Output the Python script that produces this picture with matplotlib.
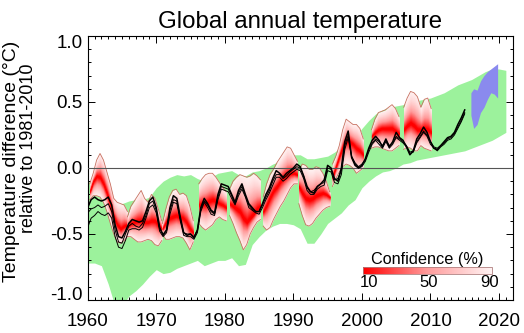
import matplotlib
matplotlib.use("Agg")
import matplotlib.pyplot as plt
import numpy as np
from matplotlib.colors import LinearSegmentedColormap, Normalize
from matplotlib.cm import ScalarMappable
from matplotlib.ticker import MultipleLocator
from matplotlib.transforms import ScaledTranslation
from statistics import NormalDist

plt.rcParams["font.family"] = ["Liberation Sans", "DejaVu Sans"]

# model ensemble range (green band), yearly
model_years = list(range(1960, 2022))
model_upper = [-0.10, -0.12, -0.18, -0.25, -0.28, -0.27, -0.25, -0.24, -0.24, -0.22,
               -0.15, -0.10, -0.07, -0.05, -0.06, -0.05, -0.08, -0.10, -0.07, -0.04,
               -0.03, -0.02, -0.05, -0.06, -0.03, -0.02, 0.00, 0.03, 0.05, 0.08,
               0.10, 0.10, 0.07, 0.07, 0.08, 0.09, 0.12, 0.16, 0.20, 0.23,
               0.30, 0.36, 0.41, 0.44, 0.46, 0.47, 0.48, 0.50, 0.51, 0.52,
               0.53, 0.55, 0.57, 0.60, 0.63, 0.65, 0.67, 0.70, 0.73, 0.75,
               0.75, 0.74]
model_lower = [-0.72, -0.72, -0.74, -0.88, -1.05, -1.05, -0.97, -0.93, -0.88, -0.82,
               -0.77, -0.80, -0.79, -0.76, -0.74, -0.72, -0.70, -0.74, -0.72, -0.70,
               -0.70, -0.68, -0.74, -0.73, -0.58, -0.52, -0.47, -0.44, -0.42, -0.42,
               -0.43, -0.46, -0.57, -0.57, -0.50, -0.42, -0.38, -0.34, -0.28, -0.24,
               -0.15, -0.10, -0.06, -0.03, -0.02, 0.00, 0.03, 0.04, 0.06, 0.07,
               0.08, 0.09, 0.10, 0.11, 0.12, 0.13, 0.15, 0.17, 0.19, 0.21,
               0.24, 0.27]

# hindcasts: start year of each 5-year run, values every half year
hc_starts = [1960.3, 1965.8, 1970.9, 1976.2, 1980.7, 1985.6, 1990.8, 1995.7, 2001.4, 2006.1]
hc_upper = [
    [-0.12, -0.04, 0.06, 0.11, 0.06, -0.03, -0.12, -0.23, -0.26, -0.27, -0.28, -0.33],
    [-0.37, -0.29, -0.25, -0.21, -0.17, -0.23, -0.26, -0.20, -0.23, -0.31, -0.40],
    [-0.42, -0.31, -0.22, -0.17, -0.16, -0.20, -0.19, -0.21, -0.29, -0.40],
    [-0.12, -0.08, -0.05, -0.04, -0.04, -0.07, -0.11, -0.15, -0.18],
    [-0.16, -0.10, -0.07, -0.05, -0.06, -0.07, -0.06, -0.04, -0.06, -0.09],
    [-0.22, -0.12, -0.05, -0.01, 0.04, 0.08, 0.12, 0.16, 0.15, 0.10, 0.05],
    [-0.02, 0.03, 0.02, -0.01, -0.01, 0.01, 0.00, -0.04, -0.10, -0.18],
    [0.03, 0.09, 0.17, 0.29, 0.37, 0.35, 0.33, 0.33, 0.30, 0.22],
    [0.29, 0.37, 0.42, 0.43, 0.44, 0.46, 0.48, 0.45, 0.39],
    [0.46, 0.53, 0.58, 0.57, 0.54, 0.46, 0.52, 0.53, 0.45],
]
hc_center = [
    [-0.18, -0.10, -0.06, -0.07, -0.12, -0.19, -0.28, -0.37, -0.43, -0.46, -0.44, -0.43],
    [-0.44, -0.42, -0.41, -0.40, -0.40, -0.41, -0.41, -0.40, -0.40, -0.43, -0.46],
    [-0.46, -0.41, -0.38, -0.37, -0.36, -0.37, -0.38, -0.41, -0.46, -0.49],
    [-0.28, -0.27, -0.27, -0.25, -0.24, -0.25, -0.27, -0.28, -0.30],
    [-0.27, -0.29, -0.31, -0.33, -0.38, -0.41, -0.38, -0.35, -0.31, -0.29],
    [-0.33, -0.28, -0.22, -0.17, -0.14, -0.10, -0.07, -0.05, -0.04, -0.04, -0.05],
    [-0.14, -0.19, -0.23, -0.24, -0.23, -0.21, -0.20, -0.19, -0.20, -0.22],
    [-0.07, 0.01, 0.09, 0.16, 0.21, 0.20, 0.18, 0.15, 0.13, 0.10],
    [0.24, 0.27, 0.29, 0.30, 0.30, 0.30, 0.30, 0.28, 0.26],
    [0.29, 0.32, 0.34, 0.32, 0.29, 0.29, 0.30, 0.29, 0.27],
]
hc_lower = [
    [-0.24, -0.21, -0.21, -0.22, -0.26, -0.33, -0.42, -0.50, -0.56, -0.57, -0.55, -0.52],
    [-0.52, -0.52, -0.54, -0.56, -0.56, -0.55, -0.54, -0.55, -0.58, -0.59, -0.55],
    [-0.50, -0.54, -0.54, -0.53, -0.52, -0.52, -0.53, -0.57, -0.62, -0.56],
    [-0.42, -0.45, -0.47, -0.45, -0.43, -0.39, -0.37, -0.39, -0.40],
    [-0.36, -0.42, -0.49, -0.55, -0.62, -0.58, -0.50, -0.45, -0.41, -0.39],
    [-0.44, -0.47, -0.45, -0.39, -0.34, -0.29, -0.25, -0.20, -0.15, -0.12, -0.12],
    [-0.27, -0.36, -0.43, -0.44, -0.42, -0.38, -0.35, -0.32, -0.30, -0.29],
    [-0.14, -0.08, -0.03, 0.01, 0.03, 0.02, 0.00, -0.04, -0.02, 0.00],
    [0.15, 0.16, 0.16, 0.15, 0.14, 0.13, 0.13, 0.15, 0.17],
    [0.14, 0.16, 0.15, 0.13, 0.13, 0.17, 0.15, 0.14, 0.13],
]

# observations, half-yearly from 1960.0
obs_start = 1960.0
obs_main = [-0.30, -0.24, -0.22, -0.24, -0.25, -0.24, -0.22, -0.28, -0.43, -0.52,
            -0.53, -0.48, -0.42, -0.39, -0.40, -0.41, -0.40, -0.33, -0.25, -0.22,
            -0.30, -0.45, -0.51, -0.47, -0.30, -0.21, -0.23, -0.37, -0.49, -0.51,
            -0.50, -0.53, -0.47, -0.30, -0.23, -0.27, -0.32, -0.34, -0.20, -0.12,
            -0.13, -0.14, -0.20, -0.26, -0.17, -0.12, -0.20, -0.27, -0.30, -0.33,
            -0.33, -0.27, -0.20, -0.15, -0.08, -0.02, -0.04, -0.07, -0.04, -0.02,
            0.00, 0.03, 0.01, -0.06, -0.14, -0.18, -0.19, -0.14, -0.12, -0.09,
            0.02, 0.00, -0.08, -0.10, 0.00, 0.20, 0.28, 0.08, 0.02, 0.00,
            0.02, 0.07, 0.15, 0.21, 0.24, 0.21, 0.16, 0.22, 0.16, 0.20,
            0.27, 0.23, 0.21, 0.16, 0.10, 0.13, 0.22, 0.26, 0.31, 0.27,
            0.20, 0.15, 0.14, 0.17, 0.20, 0.23, 0.24, 0.27, 0.33, 0.38,
            0.44]
obs_second = [-0.34, -0.31, -0.30, -0.28, -0.30, -0.29, -0.27, -0.33, -0.47, -0.56,
              -0.57, -0.50, -0.44, -0.42, -0.44, -0.45, -0.42, -0.36, -0.27, -0.25,
              -0.32, -0.46, -0.50, -0.47, -0.32, -0.24, -0.25, -0.38, -0.49, -0.50,
              -0.50, -0.52, -0.47, -0.31, -0.25, -0.28, -0.33, -0.35, -0.22, -0.14,
              -0.15, -0.16, -0.21, -0.27, -0.19, -0.14, -0.21, -0.28, -0.31, -0.33,
              -0.33, -0.28, -0.22, -0.17, -0.10, -0.05, -0.05, -0.08, -0.06, -0.03,
              -0.01, 0.01, 0.00, -0.06, -0.15, -0.18, -0.17, -0.14, -0.12, -0.11,
              0.00, -0.01, -0.09, -0.08, -0.02, 0.17, 0.25, 0.09, 0.04, 0.01,
              0.03, 0.06, 0.14, 0.19, 0.22, 0.20, 0.17, 0.21, 0.17, 0.19,
              0.24, 0.22, 0.20, 0.17, 0.12, 0.13, 0.20, 0.24, 0.28, 0.25,
              0.20, 0.16, 0.15, 0.17, 0.19, 0.22, 0.23, 0.26, 0.31, 0.36,
              0.42]
obs_third = [-0.45, -0.38, -0.36, -0.33, -0.35, -0.36, -0.34, -0.38, -0.52, -0.60,
             -0.61, -0.55, -0.47, -0.46, -0.46, -0.47, -0.45, -0.38, -0.30, -0.28,
             -0.34, -0.48, -0.52, -0.49, -0.35, -0.26, -0.27, -0.40, -0.51, -0.52,
             -0.52, -0.54, -0.49, -0.33, -0.26, -0.30, -0.35, -0.36, -0.24, -0.16,
             -0.17, -0.18, -0.23, -0.28, -0.21, -0.16, -0.22, -0.30, -0.32, -0.34,
             -0.35, -0.30, -0.24, -0.19, -0.13, -0.07, -0.07, -0.10, -0.08, -0.05,
             -0.03, -0.01, -0.02, -0.08, -0.17, -0.20, -0.20, -0.16, -0.14, -0.13,
             -0.02, -0.03, -0.11, -0.12, -0.05, 0.14, 0.23, 0.08, 0.03, 0.00,
             0.01, 0.05, 0.12, 0.18, 0.21, 0.18, 0.15, 0.20, 0.15, 0.18,
             0.23, 0.21, 0.19, 0.16, 0.11, 0.12, 0.19, 0.23, 0.27, 0.24,
             0.18, 0.15, 0.13, 0.16, 0.18, 0.21, 0.22, 0.25, 0.30, 0.35,
             0.41]

# forecast range
fc_years = [2015.9, 2016.3, 2016.8, 2017.3, 2017.8, 2018.3, 2018.8, 2019.3, 2019.8]
fc_upper = [0.57, 0.60, 0.59, 0.66, 0.70, 0.73, 0.75, 0.77, 0.79]
fc_lower = [0.40, 0.30, 0.33, 0.42, 0.46, 0.52, 0.57, 0.56, 0.53]

conf_ticks = [10, 50, 90]
y_ticks = [-1.0, -0.5, 0.0, 0.5, 1.0]
y_labels = ["-1.0", "-0.5", "0.0", "0.5", "1.0"]

conf_cmap = LinearSegmentedColormap.from_list(
    "conf", [(0.0, "#ff0000"), (0.5, "#ff9c9c"), (1.0, "#fff3f3")])
conf_norm = Normalize(6, 92)

fig = plt.figure(figsize=(5.24, 3.33), dpi=100)
ax = fig.add_axes([87.7 / 524, 33 / 333, 425 / 524, 264 / 333])

ax.fill_between(model_years, model_lower, model_upper, color="#9cf29c", lw=0, zorder=1)

# shaded confidence for each hindcast: nested intervals, darker toward the median
nd = NormalDist()
z90 = nd.inv_cdf(0.95)
for start, up, mid, lo in zip(hc_starts, hc_upper, hc_center, hc_lower):
    up, mid, lo = np.array(up), np.array(mid), np.array(lo)
    t = start + 0.5 * np.arange(len(mid))
    for p in np.linspace(90, 1, 60):
        f = nd.inv_cdf(0.5 + p / 200) / z90
        ax.fill_between(t, mid - (mid - lo) * f, mid + (up - mid) * f,
                        color=conf_cmap(conf_norm(p)), lw=0, zorder=2)
    ax.plot(t, up, color="#c87060", lw=0.6, zorder=2.5)
    ax.plot(t, lo, color="#c87060", lw=0.6, zorder=2.5)

ax.fill_between(fc_years, fc_lower, fc_upper, color="#8a8aee", lw=0, zorder=2)
ax.axhline(0, color="#555555", lw=0.8, zorder=3)

obs_t = obs_start + 0.5 * np.arange(len(obs_main))
ax.plot(obs_t, obs_third, color="black", lw=0.7, zorder=4)
ax.plot(obs_t, obs_second, color="black", lw=0.7, zorder=4)
ax.plot(obs_t, obs_main, color="black", lw=1.1, zorder=5)

ax.set_xlim(1960, 2022)
ax.set_ylim(-1, 1)
ax.xaxis.set_major_locator(MultipleLocator(10))
ax.xaxis.set_minor_locator(MultipleLocator(1))
ax.yaxis.set_minor_locator(MultipleLocator(0.1))
ax.set_yticks(y_ticks, y_labels)
ax.tick_params(which="both", direction="in", top=True, right=True, width=0.7)
ax.tick_params(which="major", length=5)
ax.tick_params(which="minor", length=2.5)
ax.tick_params(axis="x", labelsize=13.5, pad=9)
ax.tick_params(axis="y", labelsize=13.5, pad=3.5)
for s in ax.spines.values():
    s.set_linewidth(0.8)

# keep the end labels inside the frame
labels = ax.get_yticklabels()
labels[0].set_transform(labels[0].get_transform() + ScaledTranslation(0, 6 / 100, fig.dpi_scale_trans))
labels[-1].set_transform(labels[-1].get_transform() + ScaledTranslation(0, -6 / 100, fig.dpi_scale_trans))

ax.set_title("Global annual temperature", fontsize=17.3, pad=5.5)
fig.text(11.5 / 524, 1 - 161.5 / 333, "Temperature difference (\u00b0C)",
         rotation=90, ha="center", va="center", fontsize=14)
fig.text(28.5 / 524, 1 - 148 / 333, "relative to 1981-2010",
         rotation=90, ha="center", va="center", fontsize=13)

cax = ax.inset_axes([0.648, 0.0985, 0.3035, 0.0265])
cb = fig.colorbar(ScalarMappable(norm=conf_norm, cmap=conf_cmap), cax=cax,
                  orientation="horizontal")
cb.set_ticks(conf_ticks)
cb.ax.tick_params(length=0, labelsize=12, pad=0.5)
cb.outline.set_edgecolor("#b08080")
cb.outline.set_linewidth(0.6)
cax.set_title("Confidence (%)", fontsize=11.7, pad=2.4)

fig.savefig("out.png", dpi=100)
